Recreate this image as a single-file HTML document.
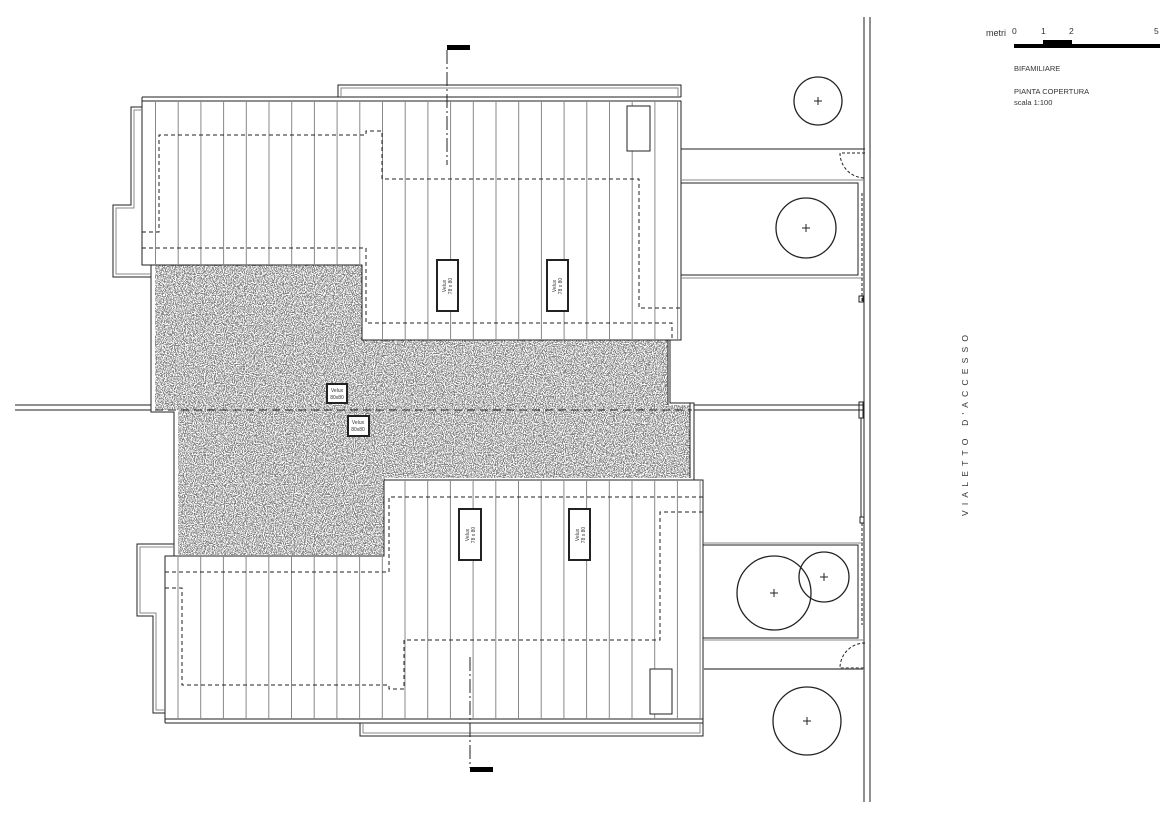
<!DOCTYPE html>
<html><head><meta charset="utf-8"><style>
html,body{margin:0;padding:0;background:#fff;}
svg{display:block;}
text{font-family:"Liberation Sans",sans-serif;fill:#333;}
</style></head><body>
<svg width="1170" height="816" viewBox="0 0 1170 816" xmlns="http://www.w3.org/2000/svg">
<defs>
<filter id="grav" x="0" y="0" width="100%" height="100%">
<feTurbulence type="fractalNoise" baseFrequency="0.9" numOctaves="2" seed="3"/>
<feColorMatrix type="matrix" values="0 0 0 0 0  0 0 0 0 0  0 0 0 0 0  -9 0 0 0 5.0"/>
<feComposite in2="SourceGraphic" operator="in"/>
</filter>
</defs>
<g fill="none" stroke="#222" stroke-width="1">
<!-- gravel -->
<polygon points="155,265 362,265 362,340 668,340 668,405 690,405 690,478 385,478 385,555 178,555 178,410 155,410" fill="#fff" stroke="none"/>
<polygon points="155,265 362,265 362,340 668,340 668,405 690,405 690,478 385,478 385,555 178,555 178,410 155,410" fill="#333" stroke="none" filter="url(#grav)" opacity="0.5"/>
<polyline points="151,265 151,412 174,412 174,556"/>
<polyline points="670,340 670,403 690,403 690,478"/>
<polyline points="686,403 694,403 694,480"/>
<line x1="155" y1="410" x2="692" y2="410" stroke-dasharray="8,5"/>

<!-- top roof -->
<polygon points="142,101 681,101 681,340 362,340 362,265 142,265" fill="#fff"/>
<line x1="142" y1="97" x2="681" y2="97"/>
<line x1="142" y1="97" x2="142" y2="101"/>
<polyline points="338,97 338,85 681,85 681,97"/>
<polyline points="341,97 341,88 678,88 678,97" stroke="#888"/>
<polyline points="142,107 131,107 131,205 113,205 113,277 151,277"/>
<polyline points="142,110 134,110 134,208 116,208 116,274 151,274" stroke="#888"/>
<g stroke="#888">
<line x1="155.5" y1="101" x2="155.5" y2="265"/><line x1="178.2" y1="101" x2="178.2" y2="265"/><line x1="200.9" y1="101" x2="200.9" y2="265"/><line x1="223.6" y1="101" x2="223.6" y2="265"/><line x1="246.3" y1="101" x2="246.3" y2="265"/><line x1="269" y1="101" x2="269" y2="265"/><line x1="291.7" y1="101" x2="291.7" y2="265"/><line x1="314.4" y1="101" x2="314.4" y2="265"/><line x1="337.1" y1="101" x2="337.1" y2="265"/><line x1="359.8" y1="101" x2="359.8" y2="265"/>
<line x1="382.5" y1="101" x2="382.5" y2="340"/><line x1="405.2" y1="101" x2="405.2" y2="340"/><line x1="427.9" y1="101" x2="427.9" y2="340"/><line x1="450.6" y1="101" x2="450.6" y2="340"/><line x1="473.3" y1="101" x2="473.3" y2="340"/><line x1="496" y1="101" x2="496" y2="340"/><line x1="518.7" y1="101" x2="518.7" y2="340"/><line x1="541.4" y1="101" x2="541.4" y2="340"/><line x1="564.1" y1="101" x2="564.1" y2="340"/><line x1="586.8" y1="101" x2="586.8" y2="340"/><line x1="609.5" y1="101" x2="609.5" y2="340"/><line x1="632.2" y1="101" x2="632.2" y2="340"/><line x1="654.9" y1="101" x2="654.9" y2="340"/><line x1="677.6" y1="101" x2="677.6" y2="340"/>
</g>
<g stroke-dasharray="4,3">
<polyline points="142,232 159,232 159,135 366,135 366,131 382,131 382,179 639,179 639,308 681,308"/>
<polyline points="142,248 366,248 366,323 672,323 672,340"/>
</g>
<rect x="627" y="106" width="23" height="45" fill="#fff"/>
<rect x="437" y="260" width="21" height="51" fill="#fff" stroke-width="2"/>
<rect x="547" y="260" width="21" height="51" fill="#fff" stroke-width="2"/>
<line x1="447" y1="50" x2="447" y2="165" stroke-dasharray="14,3,2,3"/>

<!-- bottom roof -->
<polygon points="165,556 384,556 384,480 703,480 703,719 165,719" fill="#fff"/>
<line x1="165" y1="723" x2="703" y2="723"/>
<line x1="165" y1="719" x2="165" y2="723"/>
<polyline points="360,723 360,736 703,736 703,719"/>
<polyline points="363,723 363,733 700,733 700,723" stroke="#888"/>
<polyline points="174,544 137,544 137,616 153,616 153,713 165,713"/>
<polyline points="174,547 140,547 140,613 156,613 156,710 165,710" stroke="#888"/>
<g stroke="#888">
<line x1="178" y1="556" x2="178" y2="719"/><line x1="200.7" y1="556" x2="200.7" y2="719"/><line x1="223.4" y1="556" x2="223.4" y2="719"/><line x1="246.1" y1="556" x2="246.1" y2="719"/><line x1="268.8" y1="556" x2="268.8" y2="719"/><line x1="291.5" y1="556" x2="291.5" y2="719"/><line x1="314.2" y1="556" x2="314.2" y2="719"/><line x1="336.9" y1="556" x2="336.9" y2="719"/><line x1="359.6" y1="556" x2="359.6" y2="719"/><line x1="382.3" y1="556" x2="382.3" y2="719"/>
<line x1="405" y1="480" x2="405" y2="719"/><line x1="427.7" y1="480" x2="427.7" y2="719"/><line x1="450.4" y1="480" x2="450.4" y2="719"/><line x1="473.1" y1="480" x2="473.1" y2="719"/><line x1="495.8" y1="480" x2="495.8" y2="719"/><line x1="518.5" y1="480" x2="518.5" y2="719"/><line x1="541.2" y1="480" x2="541.2" y2="719"/><line x1="563.9" y1="480" x2="563.9" y2="719"/><line x1="586.6" y1="480" x2="586.6" y2="719"/><line x1="609.3" y1="480" x2="609.3" y2="719"/><line x1="632" y1="480" x2="632" y2="719"/><line x1="654.7" y1="480" x2="654.7" y2="719"/><line x1="677.4" y1="480" x2="677.4" y2="719"/><line x1="700.1" y1="480" x2="700.1" y2="719"/>
</g>
<g stroke-dasharray="4,3">
<polyline points="165,572 389,572 389,497 703,497"/>
<polyline points="165,588 182,588 182,685 389,685 389,689 404,689 404,640 660,640 660,512 703,512"/>
</g>
<rect x="650" y="669" width="22" height="45" fill="#fff"/>
<rect x="459" y="509" width="22" height="51" fill="#fff" stroke-width="2"/>
<rect x="569" y="509" width="21" height="51" fill="#fff" stroke-width="2"/>
<line x1="470" y1="657" x2="470" y2="768" stroke-dasharray="14,3,2,3"/>

<!-- small velux -->
<rect x="327" y="384" width="20" height="19" fill="#fff" stroke-width="2"/>
<rect x="348" y="416" width="21" height="20" fill="#fff" stroke-width="2"/>

<!-- left lines -->
<line x1="15" y1="405" x2="151" y2="405"/>
<line x1="15" y1="410" x2="151" y2="410"/>

<!-- right yard -->
<line x1="864" y1="17" x2="864" y2="802"/>
<line x1="870" y1="17" x2="870" y2="802"/>
<line x1="681" y1="149" x2="865" y2="149"/>
<line x1="681" y1="180" x2="865" y2="180" stroke="#888"/>
<rect x="681" y="183" width="177" height="92"/>
<line x1="681" y1="278" x2="864" y2="278" stroke="#888"/>
<path d="M865,153 L840,153 A25,25 0 0 0 865,178" stroke-dasharray="3,2"/>
<line x1="862" y1="193" x2="862" y2="303" stroke-dasharray="3,2"/>
<rect x="859" y="296" width="4" height="6"/>
<line x1="668" y1="340" x2="668" y2="405"/>
<line x1="694" y1="405" x2="864" y2="405"/>
<line x1="694" y1="410" x2="864" y2="410"/>
<rect x="859" y="402" width="4" height="16"/>
<line x1="861" y1="418" x2="861" y2="517"/>
<rect x="860" y="517" width="4" height="6"/>
<line x1="862" y1="523" x2="862" y2="625" stroke-dasharray="3,2"/>
<line x1="703" y1="543" x2="864" y2="543" stroke="#888"/>
<rect x="703" y="545" width="155" height="93"/>
<line x1="703" y1="640" x2="864" y2="640" stroke="#888"/>
<line x1="703" y1="669" x2="865" y2="669" stroke="#888" stroke-width="2"/>
<path d="M865,643 A25,25 0 0 0 840,668 L865,668" stroke-dasharray="3,2"/>

<!-- trees -->
<g stroke-width="1.3">
<circle cx="818" cy="101" r="24"/>
<circle cx="806" cy="228" r="30"/>
<circle cx="774" cy="593" r="37"/>
<circle cx="824" cy="577" r="25"/>
<circle cx="807" cy="721" r="34"/>
</g>
<g stroke-width="1">
<path d="M814,101h8M818,97v8M802,228h8M806,224v8M770,593h8M774,589v8M820,577h8M824,573v8M803,721h8M807,717v8"/>
</g>
</g>
<!-- section markers -->
<rect x="447" y="45" width="23" height="5" fill="#000"/>
<rect x="470" y="767" width="23" height="5" fill="#000"/>

<!-- velux labels -->
<g font-size="5" text-anchor="middle" fill="#555">
<text transform="translate(446,286) rotate(-90)">Velux</text>
<text transform="translate(452,286) rotate(-90)">78 x 80</text>
<text transform="translate(556,286) rotate(-90)">Velux</text>
<text transform="translate(562,286) rotate(-90)">78 x 80</text>
<text transform="translate(469,535) rotate(-90)">Velux</text>
<text transform="translate(475,535) rotate(-90)">78 x 80</text>
<text transform="translate(579,535) rotate(-90)">Velux</text>
<text transform="translate(585,535) rotate(-90)">78 x 80</text>
<text x="337" y="392">Velux</text><text x="337" y="399">80x80</text>
<text x="358" y="424">Velux</text><text x="358" y="431">80x80</text>
</g>

<!-- scale / titles -->
<text x="986" y="36" font-size="9">metri</text>
<text x="1012" y="34" font-size="8.5">0</text>
<text x="1041" y="34" font-size="8.5">1</text>
<text x="1069" y="34" font-size="8.5">2</text>
<text x="1154" y="34" font-size="8.5">5</text>
<rect x="1014" y="44" width="146" height="4" fill="#000"/>
<rect x="1043" y="40" width="29" height="4" fill="#000"/>
<text x="1014" y="71" font-size="7.5">BIFAMILIARE</text>
<text x="1014" y="94" font-size="7.5">PIANTA COPERTURA</text>
<text x="1014" y="105" font-size="7.5">scala 1:100</text>
<text transform="translate(968,516) rotate(-90)" font-size="8.5" letter-spacing="5.2">VIALETTO D'ACCESSO</text>
</svg>
</body></html>
